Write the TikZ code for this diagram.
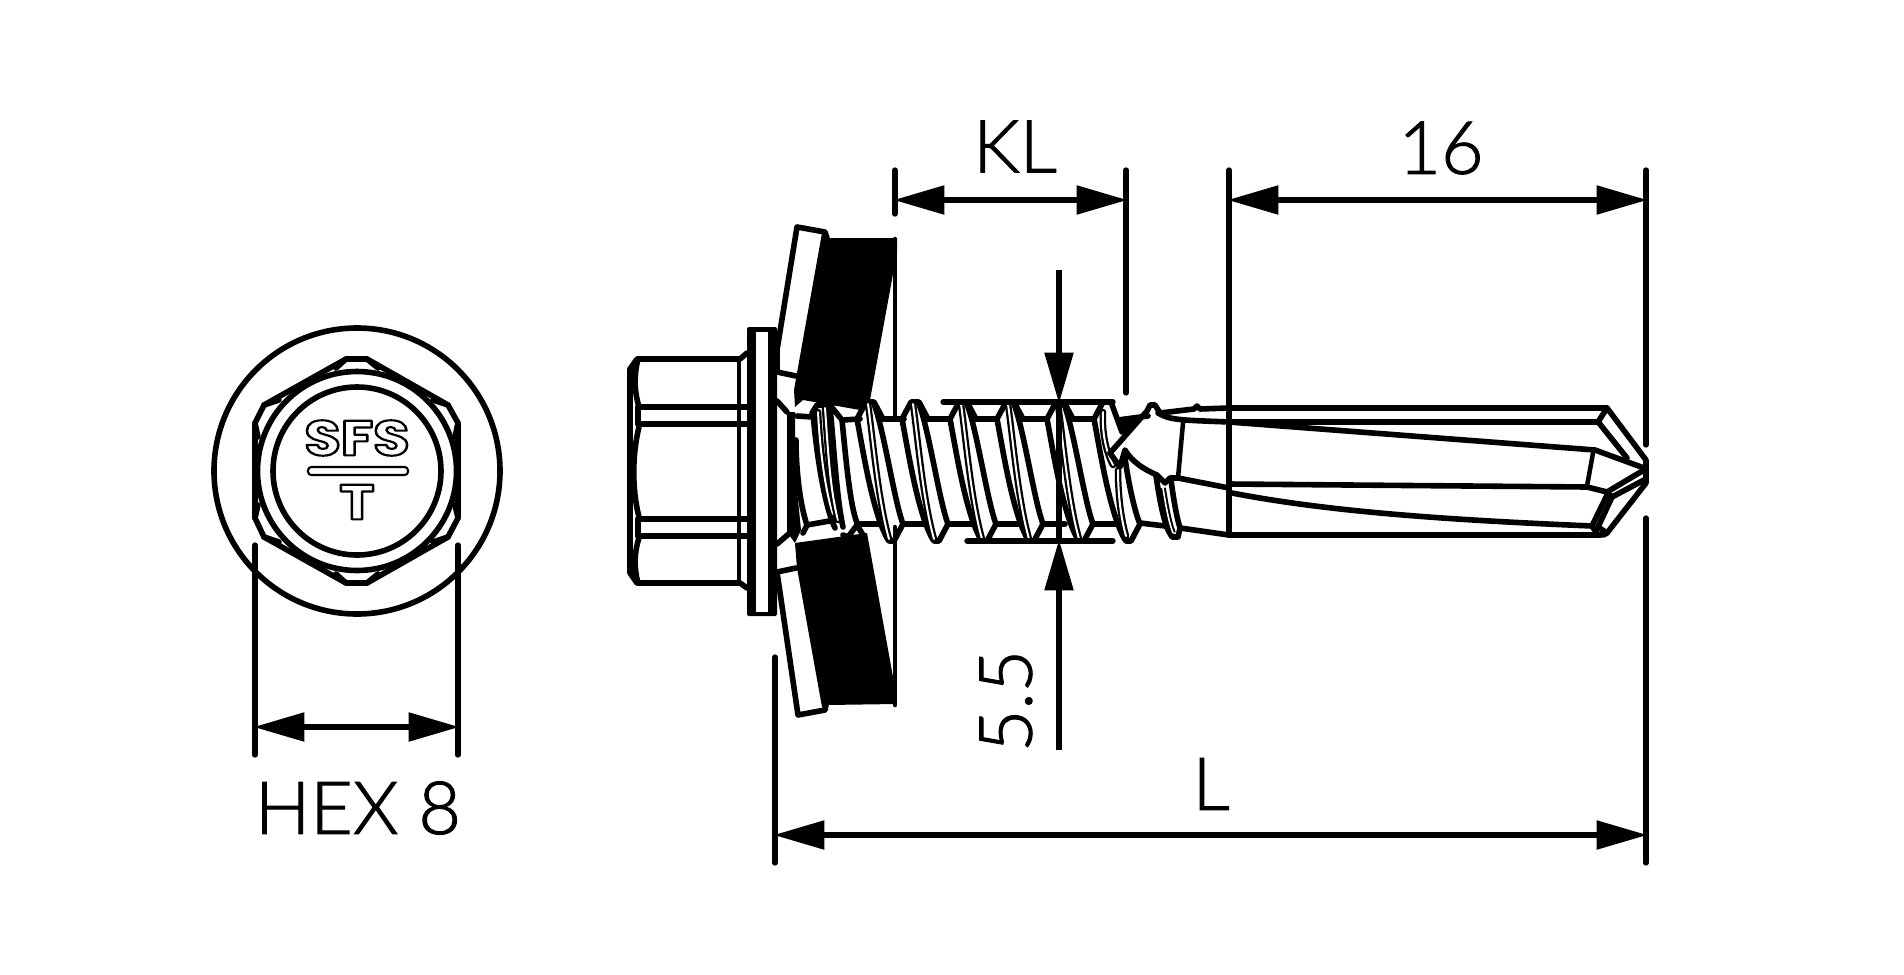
\documentclass[tikz,border=0pt]{standalone}
\usepackage{fontspec}
\usetikzlibrary{arrows.meta}
\setmainfont{Liberation Sans}
\newfontfamily\dimfont{Lato}[UprightFont=* Light]
\newfontfamily\logofont{Poppins}[UprightFont=* Bold]
\newcommand{\strokedtext}[1]{\special{pdf:code 1 Tr 1.6 w 1 j}#1\special{pdf:code 0 Tr 0 j}}
\newcommand{\heavytext}[1]{\special{pdf:code 2 Tr 0.8 w}#1\special{pdf:code 0 Tr}}
\tikzset{
  px/.style={x=0.75pt,y=-0.75pt},
  ln/.style={line width=4.2pt,line cap=round,line join=round},
  thin/.style={line width=3.4pt,line cap=round,line join=round},
  dbl/.style={line width=1.7pt,double,double distance=1.5pt,line cap=round},
  dimline/.style={line width=4pt,line cap=round},
  dimarrow/.style={line width=4pt,{Triangle[length=38pt,width=21pt]}-{Triangle[length=38pt,width=21pt]},shorten <=-1pt,shorten >=-1pt},
  downarrow/.style={line width=4pt,-{Triangle[length=38pt,width=21pt]},shorten >=-1pt},
  dimtext/.style={font=\dimfont\fontsize{55}{55}\selectfont,inner sep=0pt,text=black},
  logotext/.style={inner sep=0pt,xscale=1.2,font=\logofont\fontsize{37}{37}\selectfont},
}
% one thread turn; #1 = x of the top crest
\newcommand{\threadturn}[1]{%
  \draw[ln] (#1-13,419) -- (#1-4,402) -- (#1+4,402) -- (#1+13,419);
  \draw[ln] (#1-13,419) .. controls (#1-7,450) and (#1+2,510) .. (#1+17,538) -- (#1+19,541) -- (#1+24,541) -- (#1+33,524);
  \draw[ln] (#1+4,404) .. controls (#1+14,430) and (#1+24,500) .. (#1+33,524);
  \draw[dbl] (#1-2,404) .. controls (#1+3,440) and (#1+8,500) .. (#1+19,539);
}
\begin{document}
\begin{tikzpicture}[px]
\useasboundingbox (0,0) rectangle (1904,975);
\fill[white] (0,0) rectangle (1904,975);

% ---------- end view of the head
\coordinate (hc) at (357,471);
\draw[ln] (hc) circle (143);
\draw[ln] (346,359) -- (367,359) -- (448,405) -- (458,423) -- (458,518) -- (448,537) -- (367,583) -- (346,583) -- (264,537) -- (255,518) -- (255,423) -- (264,405) -- cycle;
\draw[ln] (346,359) -- (336,368) (367,359) -- (378,368);
\draw[ln] (448,405) -- (433,400) (458,423) -- (455,437);
\draw[ln] (264,405) -- (279,400) (255,423) -- (258,437);
\draw[ln] (448,537) -- (433,542) (458,518) -- (455,505);
\draw[ln] (264,537) -- (279,542) (255,518) -- (258,505);
\draw[ln] (346,583) -- (336,574) (367,583) -- (378,574);
\draw[ln,fill=white] (hc) circle (99.5);
\draw[ln] (hc) circle (84);
\node[logotext] (sfs) at (357,438) {\strokedtext{SFS}};
\draw[line width=1.6pt,rounded corners=2.5pt] (308,467) rectangle (408,475);
\node[logotext] (tlogo) at (357,502) {\strokedtext{T}};

% ---------- head, side view
\draw[ln] (630,369) -- (637,359) -- (740,359) -- (747,353);
\draw[ln] (630,369) -- (630,573) -- (637,583) -- (740,583) -- (747,588);
\draw[ln] (638,359) .. controls (634,375) and (634,390) .. (639,407);
\draw[ln] (639,427) .. controls (632,455) and (632,490) .. (639,517);
\draw[ln] (639,538) .. controls (634,553) and (634,568) .. (638,583);
\draw[ln] (638,407) -- (747,407) (638,424) -- (747,424) (638,519) -- (747,519) (638,536) -- (747,536);
\draw[ln] (638,407) -- (638,424) (638,519) -- (638,536);
\draw[thin] (739,359) -- (739,583);
% flange
\fill[black,rounded corners=1.5pt] (747,327) rectangle (777,616);
\fill[white] (756,332) rectangle (768,612);

% ---------- sealing washer
\draw[thin] (895,239) -- (895,417) (895,527) -- (895,705);
\fill[black] (822,233) -- (827,238) -- (897,238) -- (897,252) -- (870,400) -- (860,410) -- (803,400) -- (795,407) -- (794,390) -- (797,373) -- cycle;
\fill[black] (795,543) -- (867,533) -- (893,677) -- (897,704) -- (827,705) -- (822,707) -- (797,568) -- cycle;
\draw[ln] (777,350) -- (797,227) -- (825,232) -- (827,238);
\draw[ln] (777,350) -- (777,372) -- (796,376);
\draw[ln] (777,401) -- (787,412);
\draw[ln] (777,544) -- (791,532);
\draw[ln] (777,572) -- (796,568);
\draw[ln] (777,572) -- (798,715) -- (825,710) -- (826,705);
\fill[black] (787,412) -- (795,412) -- (795,470) -- (801,530) -- (795,543) -- (787,532) -- cycle;

% ---------- shaft start and first thread turn
\draw[ln] (797,416) -- (812,417);
\draw[ln] (796,440) .. controls (796,470) and (800,505) .. (807,525) -- (803,533);
\draw[ln] (807,525) -- (835,520);
\draw[ln] (812,413) -- (817,405) -- (830,405) -- (842,420) -- (860,419);
\draw[ln] (813,413) .. controls (816,450) and (824,505) .. (835,528);
\draw[dbl] (818,412) .. controls (820,450) and (825,490) .. (833,514);
\draw[dbl] (825,408) .. controls (828,450) and (830,490) .. (838,520);
\draw[ln] (830,406) .. controls (834,450) and (837,500) .. (843,527);
\draw[ln] (842,420) .. controls (846,460) and (850,505) .. (857,523);
\draw[ln] (843,535) -- (848,537) -- (857,525) -- (863,535);
% ---------- thread turns
\foreach \t in {870,915,963,1010,1060}{\threadturn{\t}}
\foreach \a/\b in {883/904,928/950,976/997,1023/1047,1073/1094}{\draw[ln] (\a,419) -- (\b,419);}
\foreach \a/\b in {857/880,903/925,948/972,996/1018,1043/1065,1093/1115}{\draw[ln] (\a,524) -- (\b,524);}

% ---------- last thread turn, cut off by the run-out
\draw[ln] (1094,419) -- (1103,402) -- (1111,402) -- (1122,432);
\draw[ln] (1094,419) .. controls (1100,450) and (1109,510) .. (1124,538) -- (1126,541) -- (1131,541) -- (1140,524);
\draw[dbl] (1103,412) .. controls (1102,430) and (1105,450) .. (1113,465);
\draw[dbl] (1118,470) .. controls (1118,490) and (1120,515) .. (1126,536);
\draw[ln] (1125,458) .. controls (1128,480) and (1134,510) .. (1140,524);
\draw[ln] (1140,523) -- (1165,526);
\fill[black] (1118,420) -- (1140,419) -- (1124,436) -- cycle;
\draw[ln] (1118,420) -- (1148,416);
\draw[ln] (1110,453) -- (1147,411) -- (1150,405) -- (1155,405) -- (1160,413) -- (1194,409) -- (1197,406) -- (1200,409) -- (1229,408);
\draw[ln] (1158,413) .. controls (1170,420) and (1178,420) .. (1229,422);
\draw[ln] (1110,453) -- (1120,467) -- (1125,450) .. controls (1132,462) and (1145,470) .. (1157,475) -- (1165,483) -- (1170,478) -- (1178,478) -- (1229,488);
\draw[thin] (1183,423) -- (1178,478);
\draw[ln] (1156,476) .. controls (1159,495) and (1162,515) .. (1168,530) -- (1172,537) -- (1178,537) -- (1180,528);
\draw[ln] (1171,480) .. controls (1173,495) and (1176,515) .. (1180,528);
\draw[line width=1.5pt,double,double distance=1.2pt] (1163,488) .. controls (1165,500) and (1168,520) .. (1173,533);
\draw[ln] (1180,528) -- (1229,535);

% ---------- drill part
\draw[ln] (1229,408) -- (1607,408);
\draw[ln] (1229,422) -- (1598,422);
\draw[ln] (1598,422) -- (1607,408) -- (1646,460) -- (1646,483) -- (1607,533) .. controls (1605,535) and (1603,535) .. (1600,535) -- (1229,535);
\draw[ln] (1599,423) -- (1627,458);
\draw[ln] (1229,422) -- (1595,450) -- (1644,468);
\draw[thin] (1593,453) -- (1587,486);
\draw[ln] (1229,484) -- (1587,487) -- (1607,492) -- (1644,470);
\draw[ln] (1232,493) .. controls (1330,512) and (1450,520) .. (1592,526);
\draw[ln] (1608,493) -- (1592,526) -- (1598,535);
\draw[ln] (1612,497) -- (1598,527) -- (1607,533);
\draw[ln] (1607,492) -- (1612,497) -- (1644,480);

% ---------- dimensions
\coordinate (hexA) at (255,545); \coordinate (hexAb) at (255,755);
\coordinate (hexB) at (458,545); \coordinate (hexBb) at (458,755);
\coordinate (hexL) at (255,727); \coordinate (hexR) at (458,727);
\draw[dimline] (hexA) -- (hexAb);
\draw[dimline] (hexB) -- (hexBb);
\draw[dimarrow] (hexL) -- (hexR);
\node[dimtext] (hexlabel) at (358,808) {\heavytext{HEX 8}};

\coordinate (klA) at (895,170); \coordinate (klAb) at (895,214);
\coordinate (klB) at (1126,170); \coordinate (klBb) at (1126,393);
\coordinate (klL) at (895,200); \coordinate (klR) at (1126,200);
\draw[dimline] (klA) -- (klAb);
\draw[dimline] (klB) -- (klBb);
\draw[dimarrow] (klL) -- (klR);
\node[dimtext] (kllabel) at (1015,146.5) {\heavytext{KL}};

\coordinate (sxA) at (1229,170); \coordinate (sxAb) at (1229,535);
\coordinate (sxB) at (1646,170); \coordinate (sxBb) at (1646,445);
\coordinate (sxL) at (1229,200); \coordinate (sxR) at (1646,200);
\draw[dimline] (sxA) -- (sxAb);
\draw[dimline] (sxB) -- (sxBb);
\draw[dimarrow] (sxL) -- (sxR);
\node[dimtext] (sxlabel) at (1441,148) {\heavytext{16}};

\coordinate (lA) at (775,657); \coordinate (lAb) at (775,863);
\coordinate (lB) at (1646,518); \coordinate (lBb) at (1646,863);
\coordinate (lL) at (775,835); \coordinate (lR) at (1646,835);
\draw[dimline] (lA) -- (lAb);
\draw[dimline] (lB) -- (lBb);
\draw[dimarrow] (lL) -- (lR);
\node[dimtext] (llabel) at (1211,784) {\heavytext{L}};

\coordinate (dTop) at (1059,270); \coordinate (dTopTip) at (1059,402);
\coordinate (dBot) at (1059,750); \coordinate (dBotTip) at (1059,541);
\coordinate (tickTa) at (943,402); \coordinate (tickTb) at (1113,402);
\coordinate (tickBa) at (967,541); \coordinate (tickBb) at (1113,541);
\draw[dimline] (tickTa) -- (tickTb);
\draw[dimline] (tickBa) -- (tickBb);
\draw[dimline] (dTopTip) -- (dBotTip);
\draw[downarrow] (dTop) -- (dTopTip);
\draw[downarrow] (dBot) -- (dBotTip);
\node[dimtext,rotate=90] (dialabel) at (1006,701) {\heavytext{5.5}};
\end{tikzpicture}
\end{document}
